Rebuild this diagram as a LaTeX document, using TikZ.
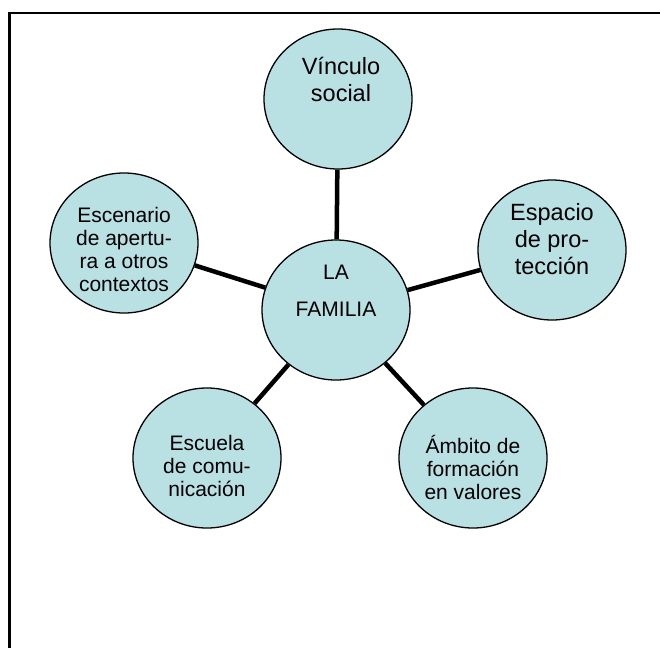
\documentclass[tikz,border=0pt]{standalone}
\usepackage{fontspec}
\setmainfont{Liberation Sans}
\usetikzlibrary{shapes.geometric}
\definecolor{bubble}{RGB}{185,224,227}
\tikzset{
  bub/.style={ellipse, draw=black, line width=1.3pt, fill=bubble, minimum width=148pt, minimum height=140pt, inner sep=0pt},
  big/.style={align=center, font=\fontsize{23.5}{27}\selectfont, inner sep=0pt},
  small/.style={align=center, font=\fontsize{21}{23}\selectfont, inner sep=0pt},
  conn/.style={line width=4.5pt, black},
  frame/.style={line width=2.4pt, black}
}
\begin{document}
\begin{tikzpicture}[x=1pt, y=-1pt]
\useasboundingbox (0,0) rectangle (660,648);
\coordinate (fa) at (9.5,648);
\coordinate (fb) at (9.5,12.7);
\coordinate (fc) at (660,12.7);
\draw[frame] (fa) -- (fb) -- (fc);

\node[bub] (fam) at (336,310) {};
\node[bub] (vin) at (338,99) {};
\node[bub] (esp) at (552,250) {};
\node[bub] (esc) at (124,243) {};
\node[bub] (escu) at (207,458) {};
\node[bub] (amb) at (473,458) {};

\draw[conn] (fam) -- (vin);
\draw[conn] (fam) -- (esp);
\draw[conn] (fam) -- (esc);
\draw[conn] (fam) -- (escu);
\draw[conn] (fam) -- (amb);

\node[small] (famt) at (336,290.5) {LA\\[14pt]FAMILIA};
\node[big] (vint) at (341,79) {Vínculo\\social};
\node[big] (espt) at (552,239) {Espacio\\de pro-\\tección};
\node[small] (esct) at (124,249) {Escenario\\de apertu-\\ra a otros\\contextos};
\node[small] (escut) at (207,466) {Escuela\\de comu-\\nicación};
\node[small] (ambt) at (473,467) {Ámbito de\\formación\\en valores};
\end{tikzpicture}
\end{document}
